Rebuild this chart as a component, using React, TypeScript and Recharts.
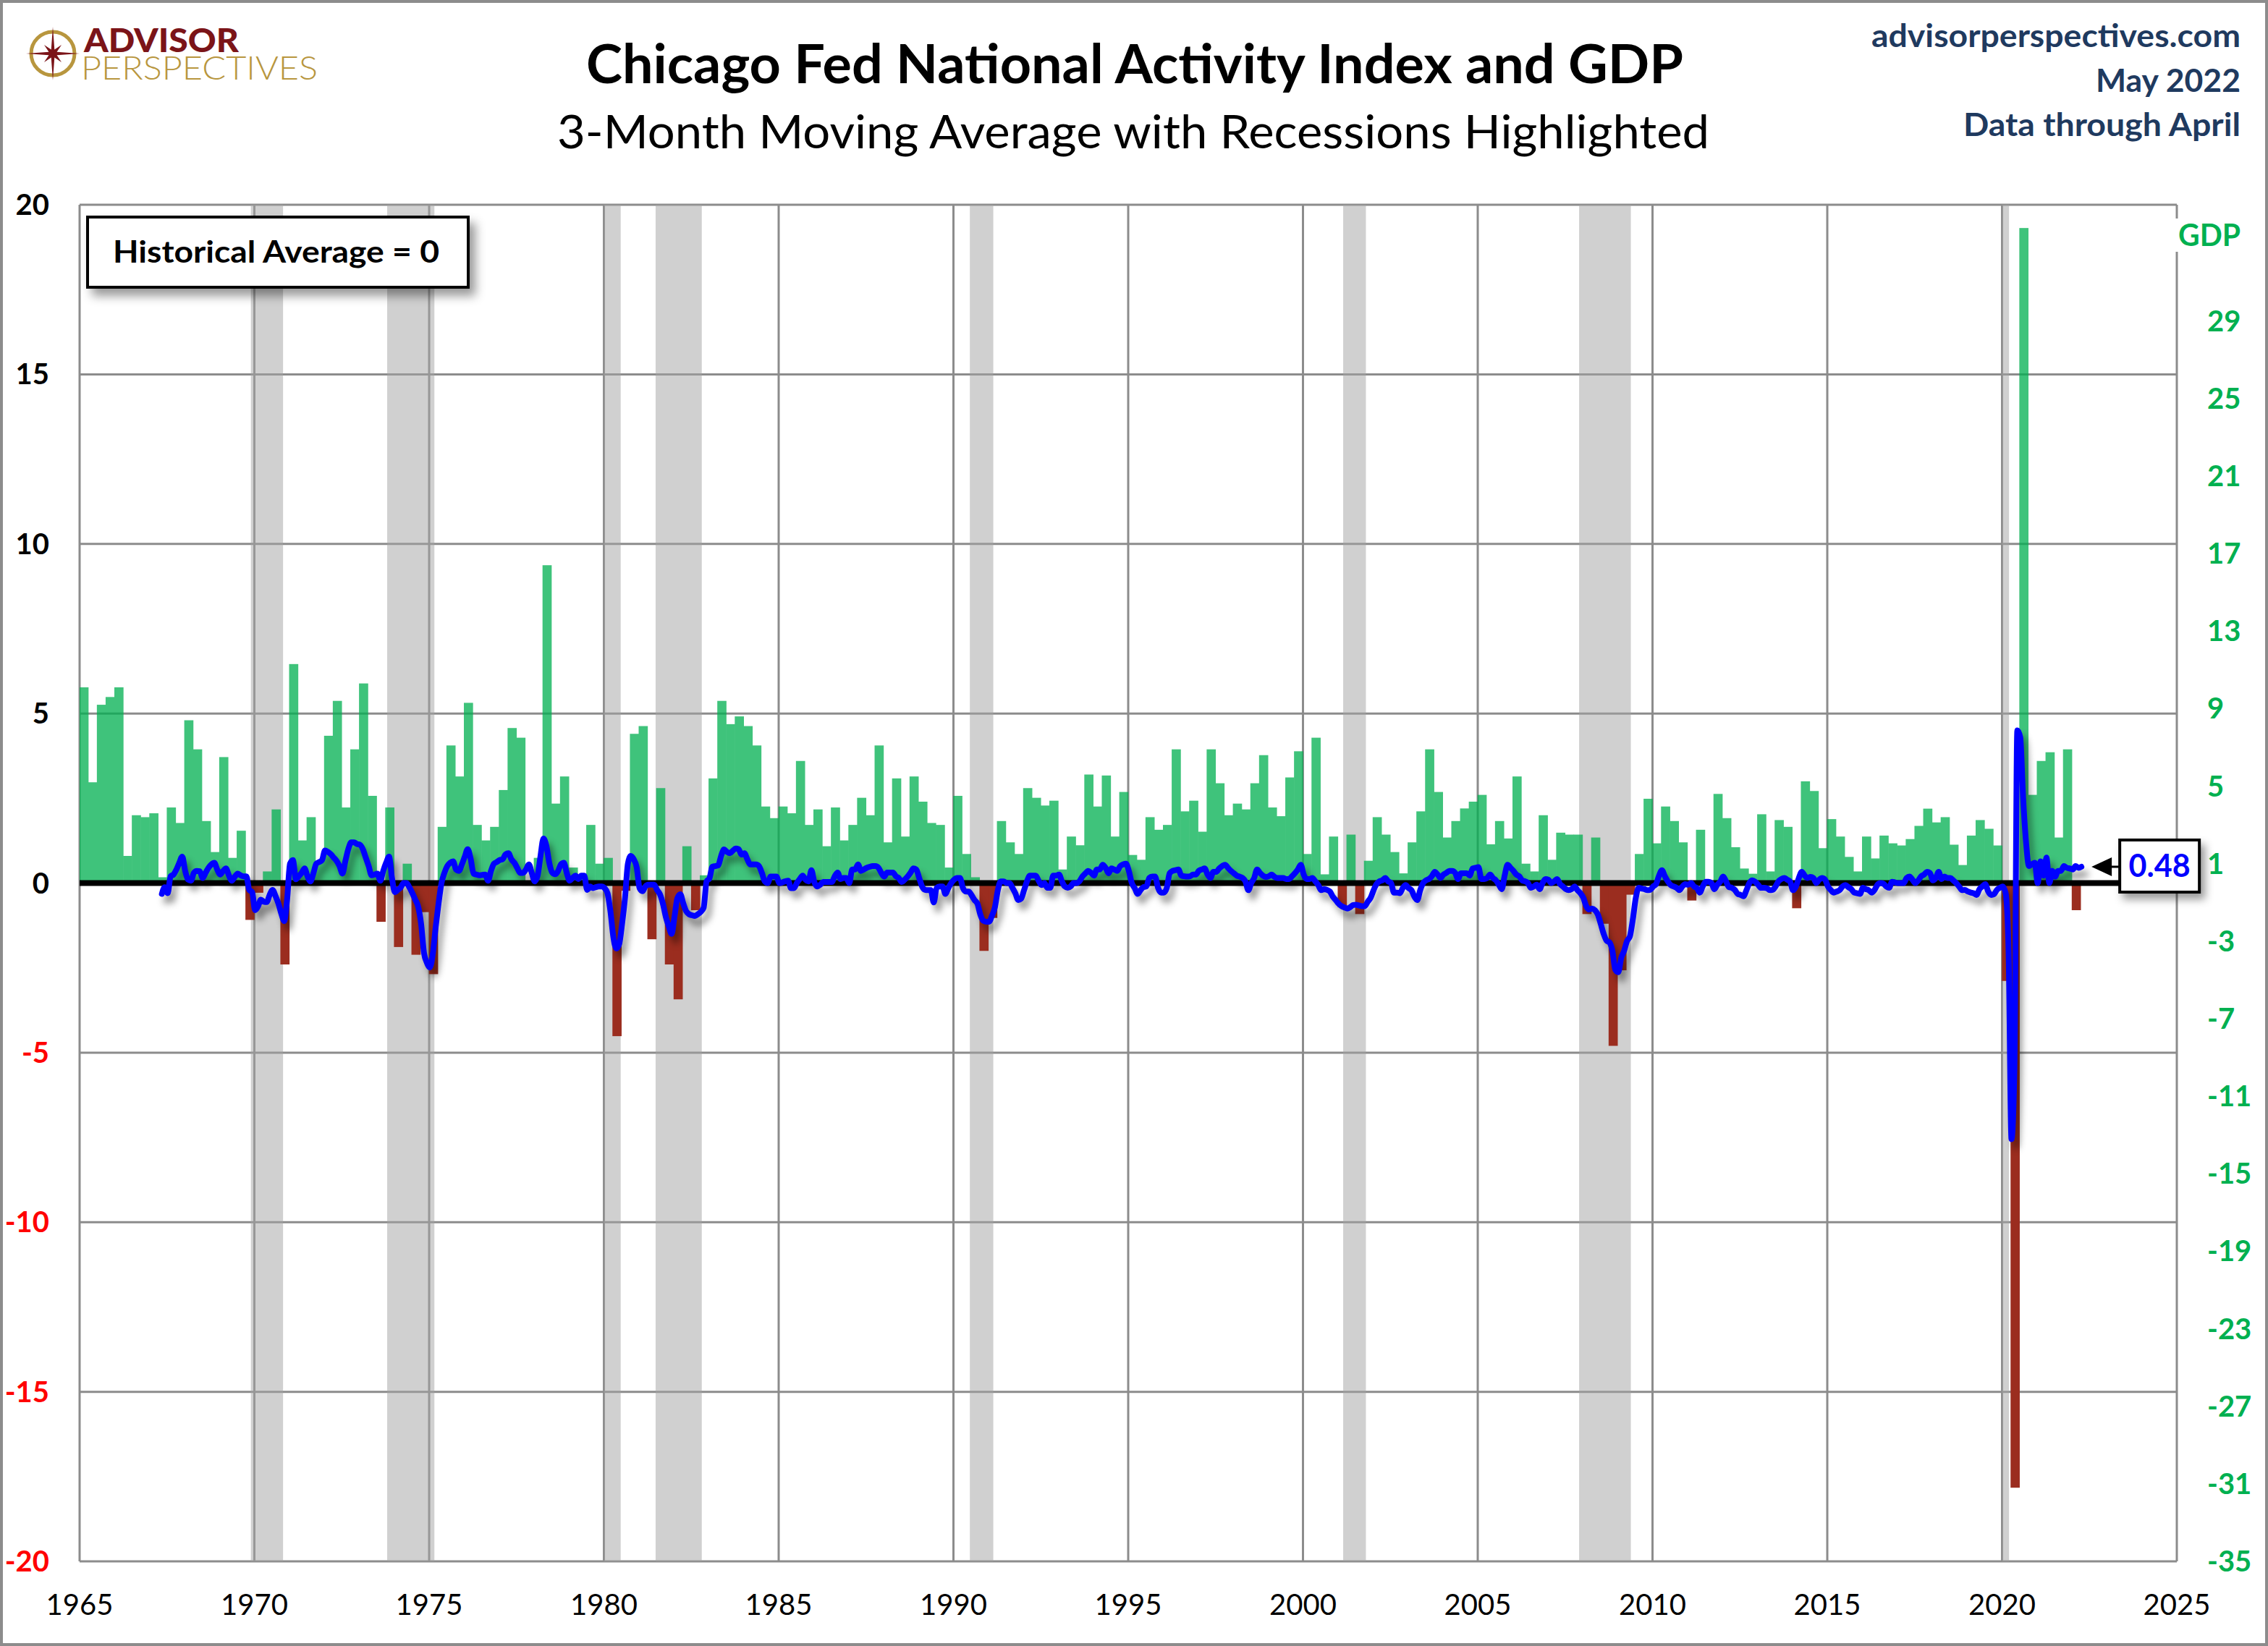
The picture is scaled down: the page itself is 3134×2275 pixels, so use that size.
import React from "react";
import {
  ComposedChart,
  Bar,
  Line,
  XAxis,
  YAxis,
  CartesianGrid,
  ReferenceArea,
  ReferenceLine,
  ReferenceDot,
} from "recharts";

const FONT = "Lato, 'Open Sans', sans-serif";
const W = 3134;
const H = 2275;
const PLOT_LEFT = 110;
const PLOT_RIGHT = 3008;
// one quarter in pixels (60 years across the plot)
const QUARTER_PX = (PLOT_RIGHT - PLOT_LEFT) / 60 / 4;

// real GDP, quarterly % change (annualized), starting 1965 Q1
const gdpFirstYear = 1965;
const gdpGrowth = [
  10.1, 5.2, 9.2, 9.6, // 1965
  10.1, 1.4, 3.5, 3.4,
  3.6, 0.3, 3.9, 3.1,
  8.4, 6.9, 3.2, 1.6,
  6.5, 1.3, 2.7, -1.9,
  -0.5, 0.6, 3.8, -4.2, // 1970
  11.3, 2.2, 3.4, 1.1,
  7.6, 9.4, 3.9, 6.9,
  10.3, 4.5, -2.0, 3.9,
  -3.3, 1.0, -3.7, -1.5,
  -4.7, 2.9, 7.1, 5.5, // 1975
  9.3, 3.0, 2.2, 2.9,
  4.8, 8.0, 7.5, 0.0,
  1.3, 16.4, 4.1, 5.5,
  0.8, 0.4, 3.0, 1.0,
  1.3, -7.9, -0.4, 7.7, // 1980
  8.1, -2.9, 4.9, -4.2,
  -6.0, 1.9, -1.4, 0.4,
  5.4, 9.4, 8.2, 8.6,
  8.1, 7.1, 3.95, 3.35,
  3.95, 3.6, 6.3, 3.0, // 1985
  3.8, 1.9, 3.9, 2.2,
  3.0, 4.4, 3.5, 7.1,
  2.1, 5.4, 2.4, 5.5,
  4.2, 3.1, 3.0, 0.8,
  4.5, 1.5, 0.3, -3.5, // 1990
  -1.8, 3.2, 2.1, 1.5,
  4.9, 4.4, 4.0, 4.25,
  0.7, 2.4, 1.95, 5.6,
  3.95, 5.55, 2.4, 4.7,
  1.45, 1.2, 3.4, 2.75, // 1995
  3.0, 6.9, 3.7, 4.25,
  2.65, 6.9, 5.15, 3.5,
  4.1, 3.8, 5.15, 6.6,
  3.9, 3.45, 5.45, 6.8,
  1.5, 7.5, 0.45, 2.4, // 2000
  -1.25, 2.5, -1.6, 1.15,
  3.4, 2.5, 1.6, 0.5,
  2.1, 3.7, 6.9, 4.7,
  2.35, 3.2, 3.85, 4.2,
  4.55, 2.0, 3.2, 2.3, // 2005
  5.5, 1.0, 0.6, 3.5,
  1.2, 2.6, 2.5, 2.5,
  -1.6, 2.35, -2.1, -8.4,
  -4.5, -0.6, 1.5, 4.35,
  2.05, 3.95, 3.2, 2.1, // 2010
  -0.9, 2.75, -0.1, 4.6,
  3.35, 1.85, 0.75, 0.48,
  3.55, 0.6, 3.25, 2.9,
  -1.3, 5.25, 4.75, 1.8,
  3.3, 2.4, 1.35, 0.6, // 2015
  2.4, 1.27, 2.45, 2.05,
  1.94, 2.27, 2.95, 3.84,
  3.13, 3.4, 1.98, 0.93,
  2.45, 3.25, 2.8, 1.94,
  -5.05, -31.2, 33.8, 4.55, // 2020
  6.3, 6.75, 2.35, 6.9,
  -1.4,
];

// CFNAI 3-month moving average, monthly, starting May 1967
const cfnaiFirstYear = 1967;
const cfnaiFirstMonth = 5;
const cfnaiMA3 = [
  -0.32, -0.12, -0.3, 0.2, 0.25, 0.4, 0.6, 0.78, // 1967 May-Dec
  0.36, 0.1, 0.07, 0.3, 0.36, 0.35, 0.15, 0.3, 0.45, 0.55, 0.6, 0.4,
  0.25, 0.35, 0.43, 0.23, 0.07, 0.18, 0.28, 0.23, 0.2, 0.2, -0.2, -0.27,
  -0.8, -0.69, -0.49, -0.55, -0.56, -0.35, -0.2, -0.38, -0.6, -0.9, -1.12, -0.49, // 1970
  0.57, 0.68, 0.11, 0.2, 0.3, 0.43, 0.2, 0.05, 0.28, 0.57, 0.62, 0.68,
  0.96, 0.92, 0.85, 0.75, 0.65, 0.5, 0.28, 0.65, 1.0, 1.2, 1.2, 1.15,
  1.13, 1.0, 0.75, 0.5, 0.23, 0.25, 0.28, 0.07, 0.36, 0.6, 0.78, 0.15,
  -0.27, -0.2, -0.13, 0.0, 0.0, -0.13, -0.3, -0.49, -0.7, -1.2, -2.06, -2.35,
  -2.49, -2.1, -1.3, -0.6, 0.0, 0.3, 0.5, 0.6, 0.64, 0.4, 0.36, 0.55, // 1975
  0.78, 1.0, 0.72, 0.28, 0.25, 0.23, 0.24, 0.25, 0.07, 0.36, 0.57, 0.62,
  0.68, 0.7, 0.85, 0.88, 0.7, 0.6, 0.45, 0.3, 0.3, 0.4, 0.55, 0.3,
  0.05, 0.22, 0.8, 1.31, 1.1, 0.6, 0.31, 0.26, 0.35, 0.55, 0.6, 0.3,
  0.07, 0.15, 0.22, 0.12, 0.22, 0.22, -0.2, -0.1, -0.15, -0.12, -0.1, -0.1,
  -0.15, -0.3, -0.83, -1.59, -1.93, -1.8, -1.2, -0.44, 0.57, 0.8, 0.7, 0.47, // 1980
  -0.15, -0.24, -0.1, -0.05, -0.05, -0.05, -0.2, -0.33, -0.6, -0.99, -1.27, -1.5,
  -0.99, -0.44, -0.33, -0.6, -0.83, -0.92, -0.95, -0.97, -0.92, -0.85, -0.73, 0.05,
  0.14, 0.48, 0.5, 0.52, 0.8, 0.99, 0.92, 0.88, 0.95, 1.02, 1.0, 0.84,
  0.88, 0.7, 0.55, 0.55, 0.55, 0.5, 0.3, 0.05, 0.0, 0.19, 0.19, 0.19,
  0.0, 0.02, 0.05, 0.07, -0.15, -0.15, 0.0, 0.12, 0.22, 0.1, 0.05, 0.38, // 1985
  0.03, -0.1, -0.05, 0.03, 0.03, 0.03, 0.03, 0.2, 0.31, 0.12, 0.15, 0.15,
  0.0, 0.4, 0.4, 0.55, 0.36, 0.4, 0.45, 0.48, 0.5, 0.5, 0.45, 0.3,
  0.19, 0.31, 0.31, 0.31, 0.2, 0.15, 0.03, 0.1, 0.19, 0.3, 0.43, 0.4,
  0.15, -0.1, -0.2, -0.21, -0.21, -0.57, -0.14, -0.1, -0.1, -0.32, -0.15, 0.0,
  0.1, 0.15, 0.15, -0.14, -0.25, -0.25, -0.36, -0.5, -0.61, -0.93, -1.11, -1.14, // 1990
  -1.14, -0.96, -0.71, -0.21, 0.05, 0.05, 0.0, 0.0, -0.14, -0.3, -0.5, -0.46,
  -0.21, 0.05, 0.22, 0.22, 0.22, 0.07, -0.06, 0.0, -0.14, -0.14, 0.22, 0.22,
  0.25, 0.05, -0.1, -0.14, -0.1, 0.0, 0.0, 0.05, 0.19, 0.28, 0.36, 0.3,
  0.22, 0.4, 0.4, 0.54, 0.45, 0.29, 0.43, 0.4, 0.36, 0.5, 0.55, 0.57,
  0.35, 0.0, -0.15, -0.32, -0.21, -0.12, -0.1, 0.15, 0.19, 0.19, -0.14, -0.28, // 1995
  -0.28, -0.14, 0.29, 0.36, 0.38, 0.4, 0.22, 0.2, 0.19, 0.2, 0.25, 0.25,
  0.36, 0.4, 0.43, 0.25, 0.15, 0.33, 0.33, 0.43, 0.5, 0.54, 0.45, 0.36,
  0.29, 0.22, 0.19, 0.15, 0.05, -0.21, 0.0, 0.15, 0.4, 0.3, 0.22, 0.18,
  0.2, 0.25, 0.18, 0.15, 0.15, 0.15, 0.12, 0.12, 0.2, 0.29, 0.4, 0.54,
  0.25, 0.12, 0.12, 0.15, 0.05, -0.06, -0.21, -0.18, -0.2, -0.25, -0.4, -0.5, // 2000
  -0.61, -0.68, -0.72, -0.75, -0.71, -0.65, -0.64, -0.66, -0.68, -0.68, -0.55, -0.43,
  -0.21, -0.03, 0.05, 0.08, 0.15, 0.05, 0.0, -0.28, -0.28, -0.3, -0.15, -0.06,
  -0.15, -0.21, -0.4, -0.5, -0.21, 0.0, 0.08, 0.12, 0.2, 0.33, 0.25, 0.15,
  0.25, 0.3, 0.36, 0.36, 0.3, 0.12, 0.29, 0.29, 0.29, 0.22, 0.43, 0.45,
  0.47, 0.12, 0.12, 0.15, 0.25, 0.15, 0.08, -0.05, -0.18, 0.22, 0.54, 0.45, // 2005
  0.36, 0.25, 0.2, 0.08, 0.05, 0.0, -0.14, -0.1, -0.05, -0.18, 0.0, 0.12,
  0.1, 0.0, 0.05, 0.12, -0.03, -0.1, -0.18, -0.21, -0.18, -0.1, -0.21, -0.3,
  -0.43, -0.68, -0.78, -0.75, -0.8, -0.93, -1.21, -1.5, -1.7, -1.75, -2.0, -2.56,
  -2.63, -2.21, -2.0, -1.71, -1.57, -1.07, -0.45, -0.14, -0.16, -0.18, -0.21, -0.2,
  -0.1, -0.03, 0.22, 0.38, 0.2, 0.05, -0.06, -0.1, -0.14, -0.21, -0.1, -0.03, // 2010
  -0.05, 0.0, -0.1, -0.15, -0.28, -0.1, 0.04, 0.04, 0.0, -0.18, -0.05, 0.04,
  0.19, 0.05, -0.12, -0.14, -0.2, -0.32, -0.35, -0.39, -0.21, 0.0, 0.08, 0.04,
  -0.05, -0.14, -0.14, -0.15, -0.21, -0.2, -0.1, 0.05, 0.12, 0.15, 0.1, 0.04,
  -0.21, -0.1, 0.15, 0.33, 0.22, 0.15, 0.18, 0.15, 0.0, 0.1, 0.15, 0.1,
  -0.1, -0.21, -0.28, -0.25, -0.21, -0.1, -0.06, -0.12, -0.18, -0.28, -0.3, -0.32, // 2015
  -0.14, -0.18, -0.21, -0.28, -0.2, -0.05, 0.0, -0.02, -0.1, -0.14, 0.04, 0.02,
  0.0, 0.0, 0.0, 0.15, 0.19, 0.1, 0.0, 0.08, 0.2, 0.25, 0.33, 0.3,
  0.08, 0.15, 0.33, 0.12, 0.19, 0.15, 0.15, 0.08, 0.0, -0.1, -0.21, -0.2,
  -0.25, -0.28, -0.3, -0.35, -0.18, -0.1, -0.03, -0.25, -0.35, -0.33, -0.2, -0.14,
  -0.1, -0.3, -2.0, -7.55, -5.5, 4.5, 4.3, 2.5, 1.2, 0.5, 0.55, 0.6, // 2020
  0.0, 0.64, 0.22, 0.75, 0.0, 0.36, 0.19, 0.36, 0.36, 0.5, 0.45, 0.43,
  0.4, 0.5, 0.45, 0.48, // 2022 Jan-Apr
];

// recessions, as decimal years
const recessions = [
  [1969.9, 1970.82],
  [1973.8, 1975.15],
  [1980.0, 1980.48],
  [1981.48, 1982.8],
  [1990.47, 1991.14],
  [2001.15, 2001.8],
  [2007.9, 2009.38],
  [2020.0, 2020.2],
];

const yearTicks = [1965, 1970, 1975, 1980, 1985, 1990, 1995, 2000, 2005, 2010, 2015, 2020, 2025];
const indexTicks = [-20, -15, -10, -5, 0, 5, 10, 15, 20];
const gdpTicks = [-35, -31, -27, -23, -19, -15, -11, -7, -3, 1, 5, 9, 13, 17, 21, 25, 29];
const latestValue = cfnaiMA3[cfnaiMA3.length - 1];

const gdpRows = gdpGrowth.map((v, i) => ({
  t: gdpFirstYear + i / 4 + 0.125,
  up: v > 0 ? v : 0,
  down: v < 0 ? v : 0,
}));

const cfnaiRows = cfnaiMA3.map((v, i) => ({
  t: cfnaiFirstYear + (cfnaiFirstMonth - 1 + i) / 12 + 0.02,
  cfnai: v,
}));

// bar spans its whole quarter, centred on the position recharts gives it
function QuarterBar({ x, y, width, height, fill }: any) {
  if (!height || x == null) return null;
  const mid = x + width / 2;
  const top = Math.min(y, y + height);
  return <rect x={mid - QUARTER_PX / 2 - 0.3} y={top} width={QUARTER_PX + 0.6} height={Math.abs(height)} fill={fill} />;
}

function LeftTick({ x, y, payload }: any) {
  const v = payload.value;
  return (
    <text x={x} y={y + 14} textAnchor="end" fontFamily={FONT} fontSize={40} fontWeight={700} fill={v < 0 ? "#FF0000" : "#000000"}>
      {v}
    </text>
  );
}

function RightTick({ x, y, payload }: any) {
  return (
    <text x={x} y={y + 14} textAnchor="start" fontFamily={FONT} fontSize={40} fontWeight={700} fill="#00B050">
      {payload.value}
    </text>
  );
}

function YearTick({ x, y, payload }: any) {
  return (
    <text x={x} y={y + 74} textAnchor="middle" fontFamily={FONT} fontSize={40} fill="#000000">
      {payload.value}
    </text>
  );
}

function Callout({ cx, cy }: any) {
  if (cx == null || cy == null) return null;
  return (
    <g>
      <defs>
        <filter id="calloutShadow" x="-30%" y="-30%" width="160%" height="170%">
          <feDropShadow dx="6" dy="8" stdDeviation="6" floodColor="#000" floodOpacity="0.4" />
        </filter>
      </defs>
      <polygon points={`${cx},${cy} ${cx + 28},${cy - 13} ${cx + 28},${cy + 13}`} fill="#000" />
      <line x1={cx + 26} y1={cy} x2={cx + 40} y2={cy} stroke="#000" strokeWidth={3} />
      <rect x={cx + 39} y={cy - 37} width={110} height={72} fill="#fff" stroke="#000" strokeWidth={4} filter="url(#calloutShadow)" />
      <text x={cx + 94} y={cy + 14} textAnchor="middle" fontFamily={FONT} fontSize={43} fontWeight={700} fill="#0000FF">
        {latestValue.toFixed(2)}
      </text>
    </g>
  );
}

function Logo() {
  const cx = 73;
  const cy = 74;
  const pts: string[] = [];
  for (let k = 0; k < 16; k++) {
    const a = (k * Math.PI) / 8 - Math.PI / 2;
    const r = k % 4 === 0 ? 37 : k % 2 === 0 ? 17 : 6;
    pts.push(`${cx + r * Math.cos(a)},${cy + r * Math.sin(a)}`);
  }
  return (
    <g>
      <circle cx={cx} cy={cy} r={30} fill="none" stroke="#B8963E" strokeWidth={5} />
      <polygon points={pts.join(" ")} fill="#7B1418" />
      <text fontFamily={FONT}>
        <tspan x={116} y={72} fontSize={46} fontWeight={900} fill="#7B1418" textLength={214} lengthAdjust="spacingAndGlyphs">
          ADVISOR
        </tspan>
        <tspan x={112} y={110} fontSize={46} fontWeight={300} fill="#B8963E" textLength={327} lengthAdjust="spacingAndGlyphs">
          PERSPECTIVES
        </tspan>
      </text>
    </g>
  );
}

export default function App() {
  return (
    <div style={{ position: "relative", width: W, height: H, background: "#fff", overflow: "hidden" }}>
      <style>{`
        body { margin: 0; }
        .gdp-up { opacity: 0.75; }
        .cfnai-line .recharts-line-curve { filter: drop-shadow(6px 10px 5px rgba(0,0,0,0.4)); }
      `}</style>
      <ComposedChart
        width={W}
        height={H}
        data={gdpRows}
        stackOffset="sign"
        margin={{ top: 283, right: 26, bottom: 57, left: 50 }}
      >
        <CartesianGrid yAxisId="idx" stroke="#8C8C8C" strokeWidth={3} />
        {recessions.map(([a, b]) => (
          <ReferenceArea key={a} yAxisId="idx" x1={a} x2={b} fill="#A2A2A2" fillOpacity={0.5} stroke="none" />
        ))}
        <XAxis
          dataKey="t"
          type="number"
          domain={[1965, 2025]}
          ticks={yearTicks}
          interval={0}
          allowDataOverflow
          axisLine={false}
          tickLine={false}
          tickSize={0}
          tickMargin={0}
          height={60}
          tick={<YearTick />}
        />
        <YAxis
          yAxisId="idx"
          domain={[-20, 20]}
          ticks={indexTicks}
          interval={0}
          allowDataOverflow
          axisLine={false}
          tickLine={false}
          tickSize={0}
          tickMargin={42}
          width={60}
          tick={<LeftTick />}
        />
        <YAxis
          yAxisId="gdp"
          orientation="right"
          domain={[-35, 35]}
          ticks={gdpTicks}
          interval={0}
          allowDataOverflow
          axisLine={false}
          tickLine={false}
          tickSize={0}
          tickMargin={42}
          width={100}
          tick={<RightTick />}
        />
        <Bar yAxisId="gdp" dataKey="up" stackId="gdp" className="gdp-up" fill="#00B050" shape={<QuarterBar />} isAnimationActive={false} />
        <Bar yAxisId="gdp" dataKey="down" stackId="gdp" fill="#9B2D1F" shape={<QuarterBar />} isAnimationActive={false} />
        <ReferenceLine yAxisId="idx" y={0} stroke="#000000" strokeWidth={8} />
        <Line
          yAxisId="idx"
          data={cfnaiRows}
          dataKey="cfnai"
          type="monotone"
          stroke="#0000FF"
          strokeWidth={8}
          strokeLinejoin="round"
          strokeLinecap="round"
          dot={false}
          className="cfnai-line"
          isAnimationActive={false}
        />
        <ReferenceDot yAxisId="idx" x={2022.56} y={latestValue} ifOverflow="visible" shape={<Callout />} />
      </ComposedChart>

      <svg width={W} height={H} style={{ position: "absolute", left: 0, top: 0, pointerEvents: "none" }}>
        <defs>
          <filter id="boxShadow" x="-10%" y="-20%" width="125%" height="160%">
            <feDropShadow dx="8" dy="10" stdDeviation="7" floodColor="#000" floodOpacity="0.4" />
          </filter>
        </defs>
        <rect x={1.5} y={1.5} width={W - 3} height={H - 3} fill="none" stroke="#8C8C8C" strokeWidth={5} />
        <Logo />
        <text x={1568} y={115} textAnchor="middle" fontFamily={FONT} fontSize={74} fontWeight={700} fill="#000" textLength={1516} lengthAdjust="spacingAndGlyphs">
          Chicago Fed National Activity Index and GDP
        </text>
        <text x={1566} y={205} textAnchor="middle" fontFamily={FONT} fontSize={63} fill="#000" textLength={1592} lengthAdjust="spacingAndGlyphs">
          3-Month Moving Average with Recessions Highlighted
        </text>
        <text x={3096} y={65} textAnchor="end" fontFamily={FONT} fontSize={44} fontWeight={700} fill="#1F3A5F" textLength={510} lengthAdjust="spacingAndGlyphs">
          advisorperspectives.com
        </text>
        <text x={3096} y={127} textAnchor="end" fontFamily={FONT} fontSize={43} fontWeight={700} fill="#1F3A5F" textLength={200} lengthAdjust="spacingAndGlyphs">
          May 2022
        </text>
        <text x={3096} y={188} textAnchor="end" fontFamily={FONT} fontSize={43} fontWeight={700} fill="#1F3A5F" textLength={383} lengthAdjust="spacingAndGlyphs">
          Data through April
        </text>
        <rect x={121} y={300} width={526} height={97} fill="#fff" stroke="#000" strokeWidth={4} filter="url(#boxShadow)" />
        <text x={156} y={363} fontFamily={FONT} fontSize={42} fontWeight={700} fill="#000" textLength={451} lengthAdjust="spacingAndGlyphs">
          Historical Average = 0
        </text>
        <rect x={3005} y={302} width={96} height={46} fill="#fff" />
        <text x={3010} y={340} fontFamily={FONT} fontSize={42} fontWeight={700} fill="#00B050" textLength={86} lengthAdjust="spacingAndGlyphs">
          GDP
        </text>
      </svg>
    </div>
  );
}
